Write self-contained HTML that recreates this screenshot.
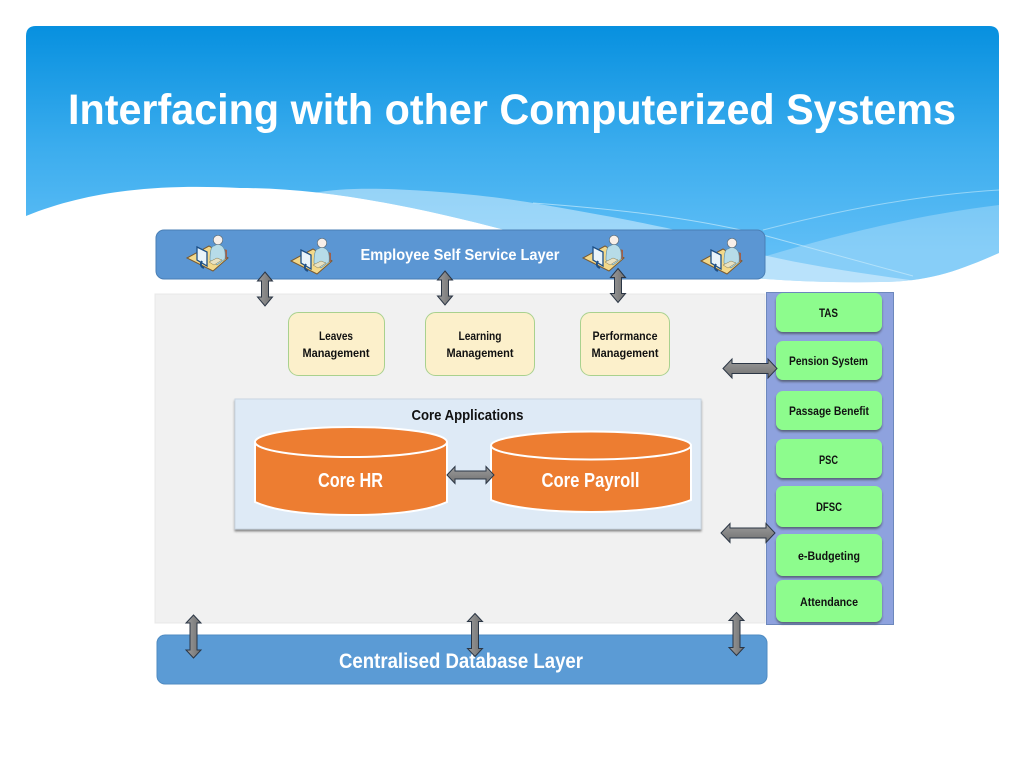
<!DOCTYPE html>
<html><head><meta charset="utf-8"><style>
html,body{margin:0;padding:0;background:#fff;width:1024px;height:768px;overflow:hidden}
svg{display:block}
text{font-family:"Liberation Sans",sans-serif;font-weight:bold;text-anchor:middle}
</style></head><body>
<svg width="1024" height="768" viewBox="0 0 1024 768" xmlns="http://www.w3.org/2000/svg">
<defs>
<linearGradient id="sky" gradientUnits="userSpaceOnUse" x1="0" y1="26" x2="0" y2="250"><stop offset="0" stop-color="#0790df"/><stop offset="0.55" stop-color="#3cadee"/><stop offset="1" stop-color="#5fbef6"/></linearGradient>
<linearGradient id="arr" x1="0" y1="0" x2="0" y2="1"><stop offset="0" stop-color="#9c9c9c"/><stop offset="1" stop-color="#707070"/></linearGradient>
<linearGradient id="arv" x1="0" y1="0" x2="1" y2="0"><stop offset="0" stop-color="#9c9c9c"/><stop offset="1" stop-color="#707070"/></linearGradient>
<filter id="sh" x="-10%" y="-10%" width="120%" height="125%"><feDropShadow dx="0" dy="2" stdDeviation="1" flood-color="#333" flood-opacity="0.55"/></filter>
<clipPath id="hdr"><path d="M26 216 L26 36 Q26 26 36 26 L989 26 Q999 26 999 36 L999 253 C960 270 930 282 880 282 C760 284 650 270 560 245 C450 214 340 188 240 188 C160 184 90 190 26 216 Z"/></clipPath>
<g id="user">
<path d="M-22 8 L0 -4 L19 8 L4 21 Z" fill="#f3d98b" stroke="#7a5a30" stroke-width="1"/>
<path d="M15 -1 L18 0 L18 9 L15 9Z" fill="#a0604a"/>
<path d="M1 10 Q1 -4 5 -4 Q9 -7 13 -4 Q17 -1 16 9 L8 15 Z" fill="#b7dce8" stroke="#5f8fa5" stroke-width=".6"/>
<circle cx="9" cy="-10" r="4.700" fill="#f7efe9" stroke="#5a6a75" stroke-width=".7"/>
<path d="M-12 -3 L-2 2 L-2 16 L-12 10 Z" fill="#e8f3fa" stroke="#1d4f86" stroke-width="1.300"/>
<path d="M-7 11 Q-10 16 -5 18" fill="none" stroke="#1d4f86" stroke-width="2"/>
<path d="M0 12 L8 8 L13 10 L5 15Z" fill="#e9e2c2" stroke="#86794d" stroke-width=".5"/>
</g>
<path id="v" d="M0 -17 L7.500 -8 L3.500 -8 L3.500 8 L7.500 8 L0 17 L-7.500 8 L-3.500 8 L-3.500 -8 L-7.500 -8 Z" fill="url(#arv)" stroke="#2b3645" stroke-width="1"/>
<path id="vl" d="M0 -21.500 L7.500 -13.500 L3.500 -13.500 L3.500 13.500 L7.500 13.500 L0 21.500 L-7.500 13.500 L-3.500 13.500 L-3.500 -13.500 L-7.500 -13.500 Z" fill="url(#arv)" stroke="#2b3645" stroke-width="1"/>
<path id="h" d="M-27 0 L-18 -9.500 L-18 -5 L18 -5 L18 -9.500 L27 0 L18 9.500 L18 5 L-18 5 L-18 9.500 Z" fill="url(#arr)" stroke="#2b3645" stroke-width="1"/>
</defs>

<!-- header -->
<path d="M26 216 L26 36 Q26 26 36 26 L989 26 Q999 26 999 36 L999 253 C960 270 930 282 880 282 C760 284 650 270 560 245 C450 214 340 188 240 188 C160 184 90 190 26 216 Z" fill="url(#sky)"/>
<g clip-path="url(#hdr)">
<path d="M763 257 C810 243 900 217 999 205 L999 300 L763 300 Z" fill="#fff" fill-opacity=".25"/>
<path d="M313 193 C345 187 390 188 440 192 C480 195 510 199 533 203 C580 211 630 220 667 228 C700 236 730 247 763 255 C820 268 880 276 940 284 L600 300 L400 230 Z" fill="#fff" fill-opacity=".42"/>
<path d="M763 230 C810 218 900 196 999 190" fill="none" stroke="#b5e2fa" stroke-width="1" opacity=".7"/>
<path d="M533 203 C600 208 680 215 763 235 C810 248 860 262 913 276" fill="none" stroke="#c5e9fb" stroke-width="1" opacity=".7"/>
</g>
<text x="512" y="124" font-size="43" fill="#fff" textLength="888" lengthAdjust="spacingAndGlyphs">Interfacing with other Computerized Systems</text>

<!-- main panel -->
<rect x="155" y="294" width="610" height="329" fill="#f1f1f1" stroke="#e8e8e8"/>

<!-- side panel -->
<rect x="766.500" y="292.500" width="127" height="332" fill="#8ea2de" stroke="#6d88bd"/>
<g filter="url(#sh)" fill="#8dfc8d">
<rect x="776" y="293" width="106" height="39" rx="7"/>
<rect x="776" y="341" width="106" height="39" rx="7"/>
<rect x="776" y="391" width="106" height="39" rx="7"/>
<rect x="776" y="439" width="106" height="39" rx="7"/>
<rect x="776" y="486" width="106" height="41" rx="7"/>
<rect x="776" y="534" width="106" height="42" rx="7"/>
<rect x="776" y="580" width="106" height="42" rx="7"/>
</g>
<g fill="#111" font-size="12">
<text x="828.500" y="317" textLength="19" lengthAdjust="spacingAndGlyphs">TAS</text>
<text x="828.500" y="365" textLength="79" lengthAdjust="spacingAndGlyphs">Pension System</text>
<text x="829" y="415" textLength="80" lengthAdjust="spacingAndGlyphs">Passage Benefit</text>
<text x="828.500" y="464" textLength="19" lengthAdjust="spacingAndGlyphs">PSC</text>
<text x="829" y="511" textLength="26" lengthAdjust="spacingAndGlyphs">DFSC</text>
<text x="829" y="560" textLength="62" lengthAdjust="spacingAndGlyphs">e-Budgeting</text>
<text x="829" y="606" textLength="58" lengthAdjust="spacingAndGlyphs">Attendance</text>
</g>

<!-- ESS bar -->
<rect x="156" y="230" width="609" height="49" rx="8" fill="#5b96d3" stroke="#4a7fb5"/>
<text x="460" y="260" font-size="16" fill="#fff" textLength="199" lengthAdjust="spacingAndGlyphs">Employee Self Service Layer</text>
<use href="#user" x="209" y="250"/>
<use href="#user" x="313" y="253"/>
<use href="#user" x="605" y="250"/>
<use href="#user" x="723" y="253"/>

<!-- modules -->
<g fill="#fcf0cb" stroke="#a9d18e" stroke-width="1">
<rect x="288.500" y="312.500" width="96" height="63" rx="10"/>
<rect x="425.500" y="312.500" width="109" height="63" rx="10"/>
<rect x="580.500" y="312.500" width="89" height="63" rx="10"/>
</g>
<g fill="#111" font-size="12">
<text x="336" y="340" textLength="34" lengthAdjust="spacingAndGlyphs">Leaves</text>
<text x="336" y="357" textLength="67" lengthAdjust="spacingAndGlyphs">Management</text>
<text x="480" y="340" textLength="43" lengthAdjust="spacingAndGlyphs">Learning</text>
<text x="480" y="357" textLength="67" lengthAdjust="spacingAndGlyphs">Management</text>
<text x="625" y="340" textLength="65" lengthAdjust="spacingAndGlyphs">Performance</text>
<text x="625" y="357" textLength="67" lengthAdjust="spacingAndGlyphs">Management</text>
</g>

<!-- core apps -->
<rect x="235" y="399" width="466" height="130" fill="#deeaf6" stroke="#c9d6e3" filter="url(#sh)"/>
<text x="467.500" y="420" font-size="15" fill="#111" textLength="112" lengthAdjust="spacingAndGlyphs">Core Applications</text>
<g fill="#ed7d31" stroke="#fff" stroke-width="2">
<path d="M255 442 L255 502 C275 511 310 515 351 515 C392 515 427 511 447 502 L447 442 Z"/>
<ellipse cx="351" cy="442" rx="96" ry="15"/>
<path d="M491 445.500 L491 500 C510 508 550 512 591 512 C632 512 671 508 691 500 L691 445.500 Z"/>
<ellipse cx="591" cy="445.500" rx="100" ry="14"/>
</g>
<text x="350.500" y="487" font-size="20" fill="#fff" textLength="65" lengthAdjust="spacingAndGlyphs">Core HR</text>
<text x="590.500" y="487" font-size="20" fill="#fff" textLength="98" lengthAdjust="spacingAndGlyphs">Core Payroll</text>

<!-- DB bar -->
<rect x="157" y="635" width="610" height="49" rx="8" fill="#5b9bd5" stroke="#4f8bc2"/>
<text x="461" y="668" font-size="21" fill="#fff" textLength="244" lengthAdjust="spacingAndGlyphs">Centralised Database Layer</text>

<!-- arrows -->
<use href="#v" x="265" y="289"/>
<use href="#v" x="445" y="288"/>
<use href="#v" x="618" y="285.500"/>
<use href="#vl" x="193.500" y="636.500"/>
<use href="#vl" x="475" y="635"/>
<use href="#vl" x="736.500" y="634"/>
<use href="#h" x="750" y="368.500"/>
<use href="#h" x="748" y="533"/>
<path d="M447 475 L455 466.500 L455 471 L486 471 L486 466.500 L494 475 L486 483.500 L486 479 L455 479 L455 483.500 Z" fill="url(#arr)" stroke="#2b3645" stroke-width="1"/>
</svg>
</body></html>
